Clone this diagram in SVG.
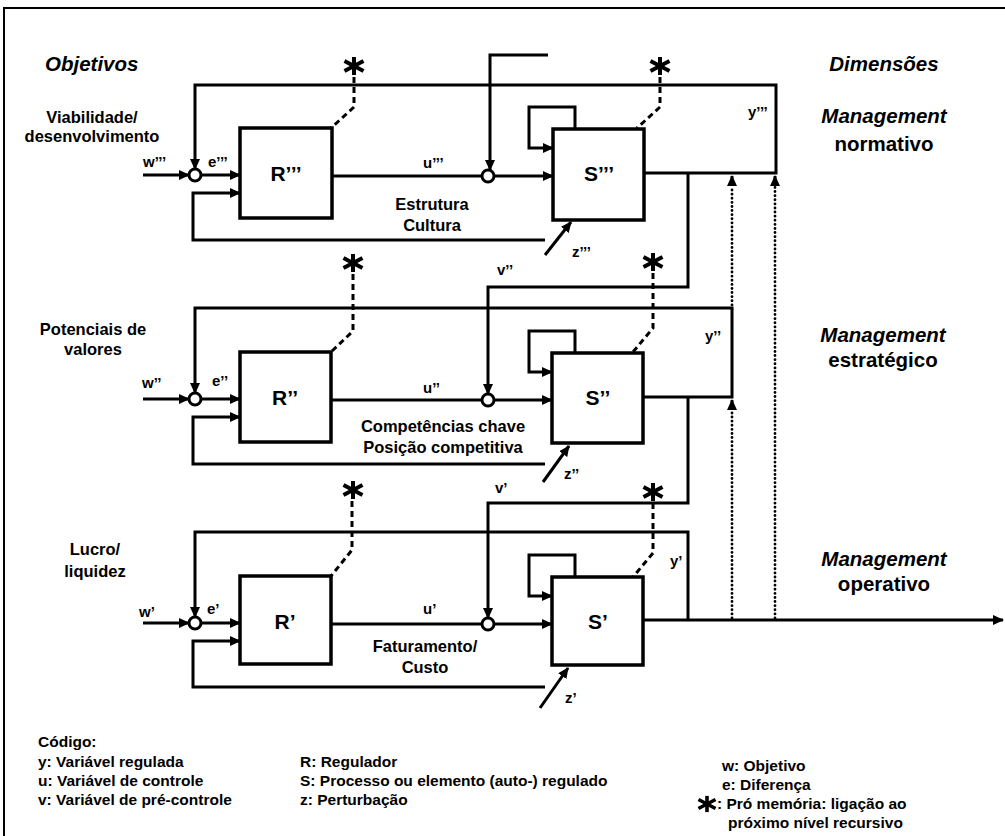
<svg xmlns="http://www.w3.org/2000/svg" width="1005" height="836" viewBox="0 0 1005 836">
<defs>
<style>
.ln{fill:none;stroke:#000;stroke-width:3;stroke-linejoin:miter}
.box{fill:#fff;stroke:#000;stroke-width:3.5}
.circ{fill:#fff;stroke:#000;stroke-width:3}
.dash{fill:none;stroke:#000;stroke-width:3;stroke-dasharray:6 4}
.dot{fill:none;stroke:#000;stroke-width:2.8;stroke-dasharray:0.1 4;stroke-linecap:round}
.frame{fill:none;stroke:#000;stroke-width:2}
.ast line{stroke:#000;stroke-width:4}
text{font-family:"Liberation Sans",Arial,Helvetica,sans-serif;font-weight:bold;fill:#000}
.t{font-size:16.5px}
.m{text-anchor:middle}
.big{font-size:21px}
.it{font-style:italic;font-size:20.5px}
.dim{font-size:20.5px}
.sm{font-size:15px}
.lg{font-size:15.5px}
</style>
<marker id="ah" viewBox="0 0 11 10" refX="10" refY="5" markerWidth="11" markerHeight="10" markerUnits="userSpaceOnUse" orient="auto"><path d="M0,0 L11,5 L0,10 Z" fill="#000"/></marker>
<g id="ast" class="ast"><line x1="0" y1="-9" x2="0" y2="9"/><line x1="-9.5" y1="-5" x2="9.5" y2="5"/><line x1="-9.5" y1="5" x2="9.5" y2="-5"/></g>
</defs>
<rect width="1005" height="836" fill="#fff"/>
<path class="frame" d="M4,836 V8 H1005"/>

<!-- headings -->
<g id="headings">
<text class="it" x="45" y="71">Objetivos</text>
<text class="it m" x="884" y="71">Dimensões</text>
</g>

<!-- connectors -->
<g id="connectors">
<!-- level 3 (top) -->
<path class="ln" d="M143,175 H189" marker-end="url(#ah)"/>
<path class="ln" d="M201,175 H240" marker-end="url(#ah)"/>
<path class="ln" d="M545,240 H193 V193 H240" marker-end="url(#ah)"/>
<path class="ln" d="M332,176 H482"/>
<path class="ln" d="M548,55 H490 V170" marker-end="url(#ah)"/>
<path class="ln" d="M494,176 H553" marker-end="url(#ah)"/>
<path class="ln" d="M575,129 V107 H529 V148 H553" marker-end="url(#ah)"/>
<path class="ln" d="M545,255 L571,222" marker-end="url(#ah)"/>
<path class="ln" d="M644,173 H776 V85 H195 V169" marker-end="url(#ah)"/>
<path class="ln" d="M688,173 V287 H488 V394" marker-end="url(#ah)"/>
<!-- level 2 (middle) -->
<path class="ln" d="M143,399 H189" marker-end="url(#ah)"/>
<path class="ln" d="M201,399 H240" marker-end="url(#ah)"/>
<path class="ln" d="M545,464 H193 V417 H240" marker-end="url(#ah)"/>
<path class="ln" d="M332,400 H482"/>
<path class="ln" d="M494,400 H552" marker-end="url(#ah)"/>
<path class="ln" d="M575,353 V331 H529 V372 H552" marker-end="url(#ah)"/>
<path class="ln" d="M543,482 L569,446" marker-end="url(#ah)"/>
<path class="ln" d="M643,397 H732 V308 H195 V393" marker-end="url(#ah)"/>
<path class="ln" d="M688,397 V503 H488 V618" marker-end="url(#ah)"/>
<!-- level 1 (bottom) -->
<path class="ln" d="M143,623 H189" marker-end="url(#ah)"/>
<path class="ln" d="M201,623 H240" marker-end="url(#ah)"/>
<path class="ln" d="M545,687 H193 V641 H240" marker-end="url(#ah)"/>
<path class="ln" d="M332,624 H482"/>
<path class="ln" d="M494,624 H552" marker-end="url(#ah)"/>
<path class="ln" d="M575,577 V555 H529 V596 H552" marker-end="url(#ah)"/>
<path class="ln" d="M540,708 L568,668" marker-end="url(#ah)"/>
<path class="ln" d="M643,620 H1003" marker-end="url(#ah)"/>
<path class="ln" d="M688,620 V532 H195 V617" marker-end="url(#ah)"/>
<!-- dotted recursive links -->
<path class="dot" d="M732,309 V186"/>
<path class="ln" d="M732,186 V176" marker-end="url(#ah)"/>
<path class="dot" d="M732,618 V410"/>
<path class="ln" d="M732,410 V400" marker-end="url(#ah)"/>
<path class="dot" d="M775,618 V186"/>
<path class="ln" d="M775,186 V176" marker-end="url(#ah)"/>
<!-- dashed memory links -->
<path class="dash" d="M354,77 V107 L331,128"/>
<path class="dash" d="M660,77 V107 L637,128"/>
<path class="dash" d="M353,274 V331 L331,352"/>
<path class="dash" d="M653,273 V328 L633,352"/>
<path class="dash" d="M352,501 V550 L331,576"/>
<path class="dash" d="M653,503 V553 L633,577"/>
</g>

<!-- stars -->
<g id="stars">
<use href="#ast" x="354" y="66"/>
<use href="#ast" x="660" y="66"/>
<use href="#ast" x="353" y="263"/>
<use href="#ast" x="653" y="262"/>
<use href="#ast" x="353" y="490"/>
<use href="#ast" x="653" y="492"/>
</g>

<!-- Level 3 nodes -->
<g id="level3">
<text class="t m" x="92" y="123">Viabilidade/</text>
<text class="t m" x="92" y="142">desenvolvimento</text>
<g id="sum-e3"><circle class="circ" cx="195" cy="175" r="6"/></g>
<g id="R3"><rect class="box" x="240" y="128" width="92" height="90"/><text class="big m" x="286" y="181">R’’’</text></g>
<g id="sum-u3"><circle class="circ" cx="488" cy="176" r="6"/></g>
<g id="S3"><rect class="box" x="553" y="129" width="91" height="91"/><text class="big m" x="599" y="181">S’’’</text></g>
<text class="sm" x="143" y="167">w’’’</text>
<text class="sm" x="208" y="167">e’’’</text>
<text class="sm" x="423" y="168">u’’’</text>
<text class="t m" x="432" y="210">Estrutura</text>
<text class="t m" x="432" y="231">Cultura</text>
<text class="sm" x="748" y="117">y’’’</text>
<text class="sm" x="572" y="257">z’’’</text>
<text class="sm" x="497" y="275">v’’</text>
<text class="it m" x="884" y="123">Management</text>
<text class="dim m" x="884" y="151">normativo</text>
</g>

<!-- Level 2 nodes -->
<g id="level2">
<text class="t m" x="93" y="335">Potenciais de</text>
<text class="t m" x="93" y="355">valores</text>
<g id="sum-e2"><circle class="circ" cx="195" cy="399" r="6"/></g>
<g id="R2"><rect class="box" x="240" y="352" width="91" height="90"/><text class="big m" x="285" y="405">R’’</text></g>
<g id="sum-u2"><circle class="circ" cx="488" cy="400" r="6"/></g>
<g id="S2"><rect class="box" x="552" y="353" width="91" height="90"/><text class="big m" x="598" y="405">S’’</text></g>
<text class="sm" x="142" y="388">w’’</text>
<text class="sm" x="212" y="386">e’’</text>
<text class="sm" x="423" y="393">u’’</text>
<text class="t m" x="443" y="432">Competências chave</text>
<text class="t m" x="443" y="453">Posição competitiva</text>
<text class="sm" x="705" y="341">y’’</text>
<text class="sm" x="564" y="479">z’’</text>
<text class="sm" x="495" y="493">v’</text>
<text class="it m" x="883" y="342">Management</text>
<text class="dim m" x="883" y="367">estratégico</text>
</g>

<!-- Level 1 nodes -->
<g id="level1">
<text class="t m" x="95" y="555">Lucro/</text>
<text class="t m" x="95" y="577">liquidez</text>
<g id="sum-e1"><circle class="circ" cx="195" cy="623" r="6"/></g>
<g id="R1"><rect class="box" x="240" y="576" width="91" height="88"/><text class="big m" x="285" y="629">R’</text></g>
<g id="sum-u1"><circle class="circ" cx="488" cy="624" r="6"/></g>
<g id="S1"><rect class="box" x="552" y="577" width="91" height="88"/><text class="big m" x="598" y="629">S’</text></g>
<text class="sm" x="139" y="617">w’</text>
<text class="sm" x="207" y="614">e’</text>
<text class="sm" x="423" y="614">u’</text>
<text class="t m" x="425" y="652">Faturamento/</text>
<text class="t m" x="425" y="673">Custo</text>
<text class="sm" x="670" y="566">y’</text>
<text class="sm" x="565" y="703">z’</text>
<text class="it m" x="884" y="566">Management</text>
<text class="dim m" x="884" y="591">operativo</text>
</g>

<!-- legend -->
<g id="legend">
<text class="lg" x="38" y="747">Código:</text>
<text class="lg" x="38" y="767">y: Variável regulada</text>
<text class="lg" x="38" y="786">u: Variável de controle</text>
<text class="lg" x="38" y="805">v: Variável de pré-controle</text>
<text class="lg" x="300" y="767">R: Regulador</text>
<text class="lg" x="300" y="786">S: Processo ou elemento (auto-) regulado</text>
<text class="lg" x="300" y="805">z: Perturbação</text>
<text class="lg" x="722" y="771">w: Objetivo</text>
<text class="lg" x="722" y="790">e: Diferença</text>
<use href="#ast" x="0" y="0" transform="translate(707,804) scale(0.9)"/>
<text class="lg" x="717" y="809">: Pró memória: ligação ao</text>
<text class="lg" x="728" y="828">próximo nível recursivo</text>
</g>
</svg>
